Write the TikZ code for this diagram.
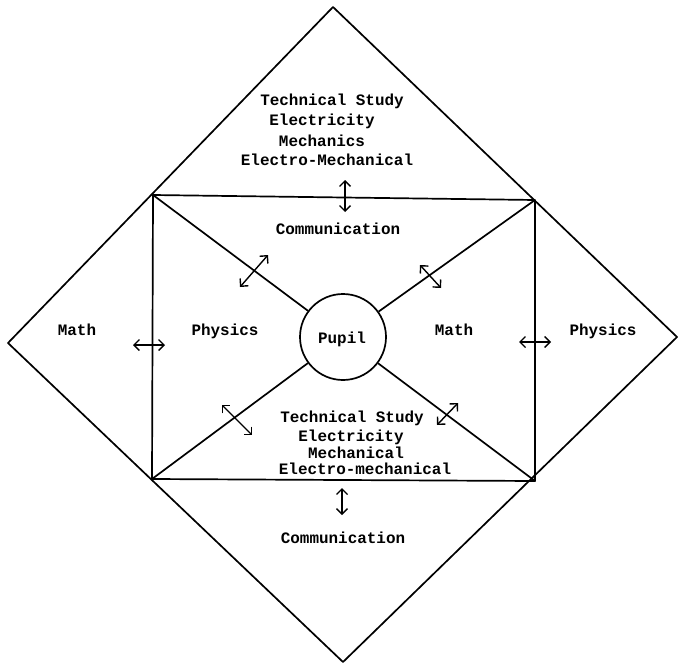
\documentclass[tikz,border=0pt]{standalone}
\usepackage{fontspec}
\setmonofont{Liberation Mono}
\usetikzlibrary{arrows.meta}
\begin{document}
\begin{tikzpicture}[x=1bp,y=-1bp, line width=1.7bp, line join=round,
  lbl/.style={font=\ttfamily\bfseries\fontsize{16}{18}\selectfont, inner sep=0pt, anchor=base},
  dbl/.style={line width=1.4bp, {Straight Barb[length=5.5bp,width=11bp]}-{Straight Barb[length=5.5bp,width=11bp]}}]
\useasboundingbox (0,0) rectangle (678,665);
% outer diamond
\coordinate (T) at (333,7);
\coordinate (R) at (677,337);
\coordinate (B) at (343,662);
\coordinate (L) at (8,343);
% inner rectangle
\coordinate (TL) at (153,195);
\coordinate (TR) at (535,200);
\coordinate (BR) at (535,481);
\coordinate (BL) at (152,479);
\draw (T) -- (R) -- (B) -- (L) -- cycle;
\draw (TL) -- (TR) -- (BR) -- (BL) -- cycle;
% pupil
\node[circle, draw, minimum size=86bp, inner sep=0pt] (pupil) at (343,337) {};
\node[lbl] (pupiltxt) at (342,343) {Pupil};
\draw (TL) -- (pupil);
\draw (TR) -- (pupil);
\draw (BR) -- (pupil);
\draw (BL) -- (pupil);
% top block
\node[lbl] (t1) at (332,106) {Technical Study};
\node[lbl] (t2) at (322,126) {Electricity};
\node[lbl] (t3) at (322,146) {Mechanics};
\node[lbl] (t4) at (327,165) {Electro-Mechanical};
\node[lbl] (c1) at (338,234) {Communication};
% side labels
\node[lbl] (m1) at (77,335) {Math};
\node[lbl] (p1) at (225,335) {Physics};
\node[lbl] (m2) at (454,335) {Math};
\node[lbl] (p2) at (603,335) {Physics};
% bottom block
\node[lbl] (b1) at (352,422) {Technical Study};
\node[lbl] (b2) at (351,441) {Electricity};
\node[lbl] (b3) at (356,458) {Mechanical};
\node[lbl] (b4) at (365,474) {Electro-mechanical};
\node[lbl] (c2) at (343,543) {Communication};
% double arrows
\coordinate (a1s) at (345,180); \coordinate (a1e) at (345,212);
\coordinate (a2s) at (342,488); \coordinate (a2e) at (342,515);
\coordinate (a3s) at (133,345); \coordinate (a3e) at (165,345);
\coordinate (a4s) at (519,342); \coordinate (a4e) at (551,342);
\coordinate (a5s) at (240,287); \coordinate (a5e) at (268,255);
\coordinate (a6s) at (420,265); \coordinate (a6e) at (441,288);
\coordinate (a7s) at (222,405); \coordinate (a7e) at (252,435);
\coordinate (a8s) at (437,425); \coordinate (a8e) at (458,403);
\draw[dbl] (a1s) -- (a1e);
\draw[dbl] (a2s) -- (a2e);
\draw[dbl] (a3s) -- (a3e);
\draw[dbl] (a4s) -- (a4e);
\draw[dbl] (a5s) -- (a5e);
\draw[dbl] (a6s) -- (a6e);
\draw[dbl] (a7s) -- (a7e);
\draw[dbl] (a8s) -- (a8e);
\end{tikzpicture}
\end{document}
